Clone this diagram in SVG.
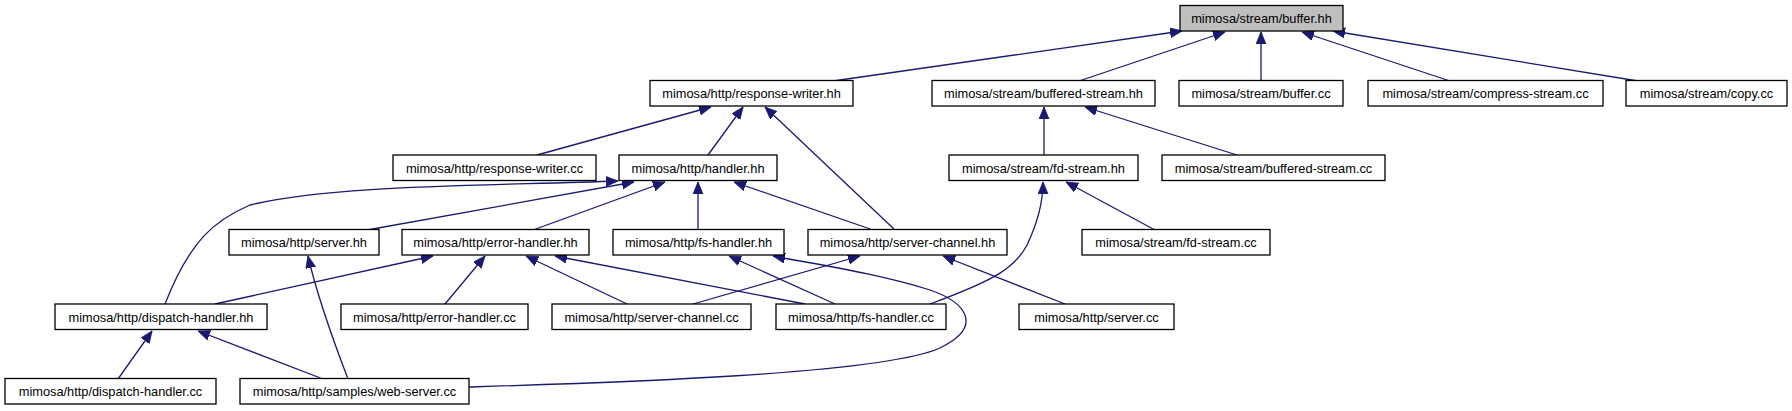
<svg xmlns="http://www.w3.org/2000/svg" width="1792" height="411" viewBox="0 0 1792 411">
<defs>
<style>
.n rect{fill:#fff;stroke:#000;stroke-width:1.3}
.n.g rect{fill:#bfbfbf}
.n text{font-family:"Liberation Sans",Arial,sans-serif;font-size:12.8px;fill:#000;text-anchor:middle}
.e path{fill:none;stroke:#191970;stroke-width:1.3;marker-end:url(#ah)}
</style>
<marker id="ah" markerUnits="userSpaceOnUse" markerWidth="13" markerHeight="11" refX="12" refY="5" orient="auto">
<path d="M0,0 L12,5 L0,10 z" fill="#191970" stroke="#191970" stroke-width="0.8"/>
</marker>
</defs>
<rect width="1792" height="411" fill="#fff"/>
<g id="edges" class="e">
<path d="M833,81 L1182,31"/>
<path d="M1079,81 L1225,32"/>
<path d="M1261,81 L1261,32"/>
<path d="M1450,81 L1302,32"/>
<path d="M1638,81 L1333,31"/>
<path d="M537,155 L711,107"/>
<path d="M708,155 L743,107"/>
<path d="M895,230 L765,107"/>
<path d="M1044,155 L1044,107"/>
<path d="M1237,155 L1085,107"/>
<path d="M1155,230 L1066,182"/>
<path d="M930,304 C995,280 1015,268 1027,245 C1038,222 1043,200 1043,182"/>
<path d="M165,304 C190,240 215,220 250,205 C330,185 480,186 618,181"/>
<path d="M367,230 L634,182"/>
<path d="M533,230 L665,182"/>
<path d="M698,230 L698,182"/>
<path d="M873,230 L734,182"/>
<path d="M215,304 L433,256"/>
<path d="M348,379 C335,345 318,300 308,256"/>
<path d="M445,304 L485,256"/>
<path d="M627,304 L526,256"/>
<path d="M805,304 L555,256"/>
<path d="M835,304 L729,256"/>
<path d="M469,387 C600,383 880,375 940,348 C985,326 965,302 930,290 C880,274 820,265 773,256"/>
<path d="M693,304 L860,256"/>
<path d="M1065,304 L943,256"/>
<path d="M118,379 L152,331"/>
<path d="M323,379 L198,331"/>
</g>
<g id="buffer_hh" class="n g"><rect x="1180" y="5.5" width="163" height="25.5"/><text x="1261.5" y="23">mimosa/stream/buffer.hh</text></g>
<g id="response_writer_hh" class="n"><rect x="650" y="80.5" width="203" height="25.5"/><text x="751.5" y="98">mimosa/http/response-writer.hh</text></g>
<g id="buffered_stream_hh" class="n"><rect x="932" y="80.5" width="223" height="25.5"/><text x="1043.5" y="98">mimosa/stream/buffered-stream.hh</text></g>
<g id="buffer_cc" class="n"><rect x="1179" y="80.5" width="164" height="25.5"/><text x="1261" y="98">mimosa/stream/buffer.cc</text></g>
<g id="compress_stream_cc" class="n"><rect x="1368" y="80.5" width="235" height="25.5"/><text x="1485.5" y="98">mimosa/stream/compress-stream.cc</text></g>
<g id="copy_cc" class="n"><rect x="1626" y="80.5" width="161" height="25.5"/><text x="1706.5" y="98">mimosa/stream/copy.cc</text></g>
<g id="response_writer_cc" class="n"><rect x="393" y="155" width="203" height="25.5"/><text x="494.5" y="172.5">mimosa/http/response-writer.cc</text></g>
<g id="handler_hh" class="n"><rect x="619" y="155" width="158" height="25.5"/><text x="698" y="172.5">mimosa/http/handler.hh</text></g>
<g id="fd_stream_hh" class="n"><rect x="949" y="155" width="189" height="25.5"/><text x="1043.5" y="172.5">mimosa/stream/fd-stream.hh</text></g>
<g id="buffered_stream_cc" class="n"><rect x="1162" y="155" width="223" height="25.5"/><text x="1273.5" y="172.5">mimosa/stream/buffered-stream.cc</text></g>
<g id="server_hh" class="n"><rect x="229" y="229.5" width="150" height="25.5"/><text x="304" y="247">mimosa/http/server.hh</text></g>
<g id="error_handler_hh" class="n"><rect x="402" y="229.5" width="187" height="25.5"/><text x="495.5" y="247">mimosa/http/error-handler.hh</text></g>
<g id="fs_handler_hh" class="n"><rect x="613" y="229.5" width="171" height="25.5"/><text x="698.5" y="247">mimosa/http/fs-handler.hh</text></g>
<g id="server_channel_hh" class="n"><rect x="808" y="229.5" width="199" height="25.5"/><text x="907.5" y="247">mimosa/http/server-channel.hh</text></g>
<g id="fd_stream_cc" class="n"><rect x="1082" y="229.5" width="188" height="25.5"/><text x="1176" y="247">mimosa/stream/fd-stream.cc</text></g>
<g id="dispatch_handler_hh" class="n"><rect x="55" y="304" width="212" height="25.5"/><text x="161" y="321.5">mimosa/http/dispatch-handler.hh</text></g>
<g id="error_handler_cc" class="n"><rect x="341" y="304" width="187" height="25.5"/><text x="434.5" y="321.5">mimosa/http/error-handler.cc</text></g>
<g id="server_channel_cc" class="n"><rect x="552" y="304" width="199" height="25.5"/><text x="651.5" y="321.5">mimosa/http/server-channel.cc</text></g>
<g id="fs_handler_cc" class="n"><rect x="776" y="304" width="170" height="25.5"/><text x="861" y="321.5">mimosa/http/fs-handler.cc</text></g>
<g id="server_cc" class="n"><rect x="1019" y="304" width="155" height="25.5"/><text x="1096.5" y="321.5">mimosa/http/server.cc</text></g>
<g id="dispatch_handler_cc" class="n"><rect x="5" y="378.5" width="211" height="25.5"/><text x="110.5" y="396">mimosa/http/dispatch-handler.cc</text></g>
<g id="web_server_cc" class="n"><rect x="240" y="378.5" width="229" height="25.5"/><text x="354.5" y="396">mimosa/http/samples/web-server.cc</text></g>
</svg>
